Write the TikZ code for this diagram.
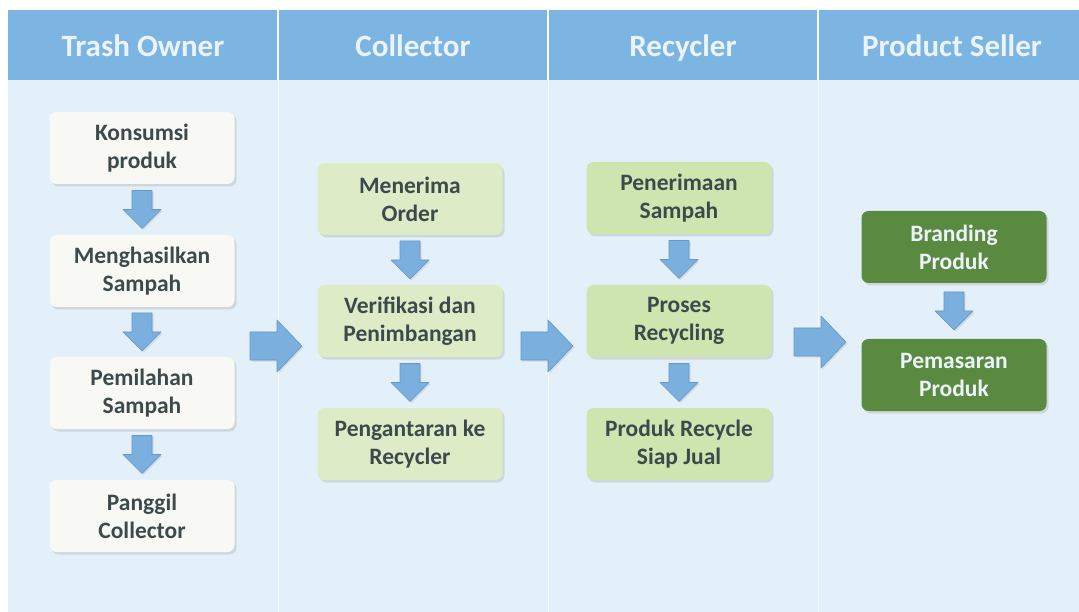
\documentclass[tikz,border=0pt]{standalone}
\usepackage{fontspec}
\setmainfont{Carlito}
\usetikzlibrary{shadows,calc}
\definecolor{hdr}{RGB}{124,180,226}
\definecolor{hdrtxt}{RGB}{236,244,251}
\definecolor{bodybg}{RGB}{228,240,249}
\definecolor{ownerbox}{RGB}{248,249,244}
\definecolor{collbox}{RGB}{221,235,199}
\definecolor{recbox}{RGB}{207,229,176}
\definecolor{sellbox}{RGB}{90,138,64}
\definecolor{txt}{RGB}{60,74,76}
\definecolor{arrfill}{RGB}{122,175,222}
\definecolor{arredge}{RGB}{100,150,200}
\tikzset{
  x=1pt,y=-1pt,
  base/.style={rounded corners=7pt, minimum width=185pt, minimum height=72pt,
    align=center, font=\bfseries\fontsize{23.5}{28}\selectfont, text=txt,
    drop shadow={opacity=0.22, shadow xshift=2pt, shadow yshift=-2.5pt}},
  owner/.style={base, fill=ownerbox},
  coll/.style={base, fill=collbox},
  rec/.style={base, fill=recbox},
  sell/.style={base, fill=sellbox, text=hdrtxt},
  hdrtext/.style={anchor=base, font=\bfseries\fontsize{31}{36}\selectfont, text=hdrtxt},
  blockarrow/.style={fill=arrfill, draw=arredge, line width=0.6pt, line join=round,
    drop shadow={opacity=0.18, shadow xshift=1.5pt, shadow yshift=-1.5pt}},
  darrow/.pic={\path[blockarrow] (-10,-19) -- (10,-19) -- (10,0) -- (19,0) -- (0,19) -- (-19,0) -- (-10,0) -- cycle;},
  rarrow/.pic={\path[blockarrow] (-26,-14) -- (1,-14) -- (1,-26) -- (26,0) -- (1,26) -- (1,14) -- (-26,14) -- cycle;}
}
\begin{document}
\begin{tikzpicture}
\useasboundingbox (0,0) rectangle (1079,612);
\fill[white] (0,0) rectangle (1079,612);
% body background
\fill[bodybg] (8,80) rectangle (1079,612);
% header
\fill[hdr] (8,10) rectangle (1079,80);
\foreach \xx in {278,548,818}{
  \draw[white, line width=1.2pt] (\xx,10) -- (\xx,80);
  \draw[white, opacity=0.6, line width=1pt] (\xx,80) -- (\xx,612);
}
\node[hdrtext] (h1) at (143,57) {Trash Owner};
\node[hdrtext] (h2) at (413,57) {Collector};
\node[hdrtext] (h3) at (683,57) {Recycler};
\node[hdrtext] (h4) at (952,57) {Product Seller};

% Trash owner
\node[owner] (o1) at (142,148) {Konsumsi\\produk};
\node[owner] (o2) at (142,271) {Menghasilkan\\Sampah};
\node[owner] (o3) at (142,393) {Pemilahan\\Sampah};
\node[owner] (o4) at (142,516) {Panggil\\Collector};

% Collector
\node[coll] (c1) at (410,199) {Menerima\\Order};
\node[coll] (c2) at (410,321) {Verifikasi dan\\Penimbangan};
\node[coll] (c3) at (410,444) {Pengantaran ke\\Recycler};

% Recycler
\node[rec] (r1) at (679,198) {Penerimaan\\Sampah};
\node[rec] (r2) at (679,321) {Proses\\Recycling};
\node[rec] (r3) at (679,444) {Produk Recycle\\Siap Jual};

% Product seller
\node[sell] (s1) at (954,247) {Branding\\Produk};
\node[sell] (s2) at (954,375) {Pemasaran\\Produk};

% vertical arrows
\path ($(o1.south)!0.5!(o2.north)$) pic {darrow};
\path ($(o2.south)!0.5!(o3.north)$) pic {darrow};
\path ($(o3.south)!0.5!(o4.north)$) pic {darrow};
\path ($(c1.south)!0.5!(c2.north)$) pic {darrow};
\path ($(c2.south)!0.5!(c3.north)$) pic {darrow};
\path ($(r1.south)!0.5!(r2.north)$) pic {darrow};
\path ($(r2.south)!0.5!(r3.north)$) pic {darrow};
\path ($(s1.south)!0.5!(s2.north)$) pic {darrow};

% horizontal arrows
\path (276,346) pic {rarrow};
\path (547,346) pic {rarrow};
\path (820,342) pic {rarrow};
\end{tikzpicture}
\end{document}
